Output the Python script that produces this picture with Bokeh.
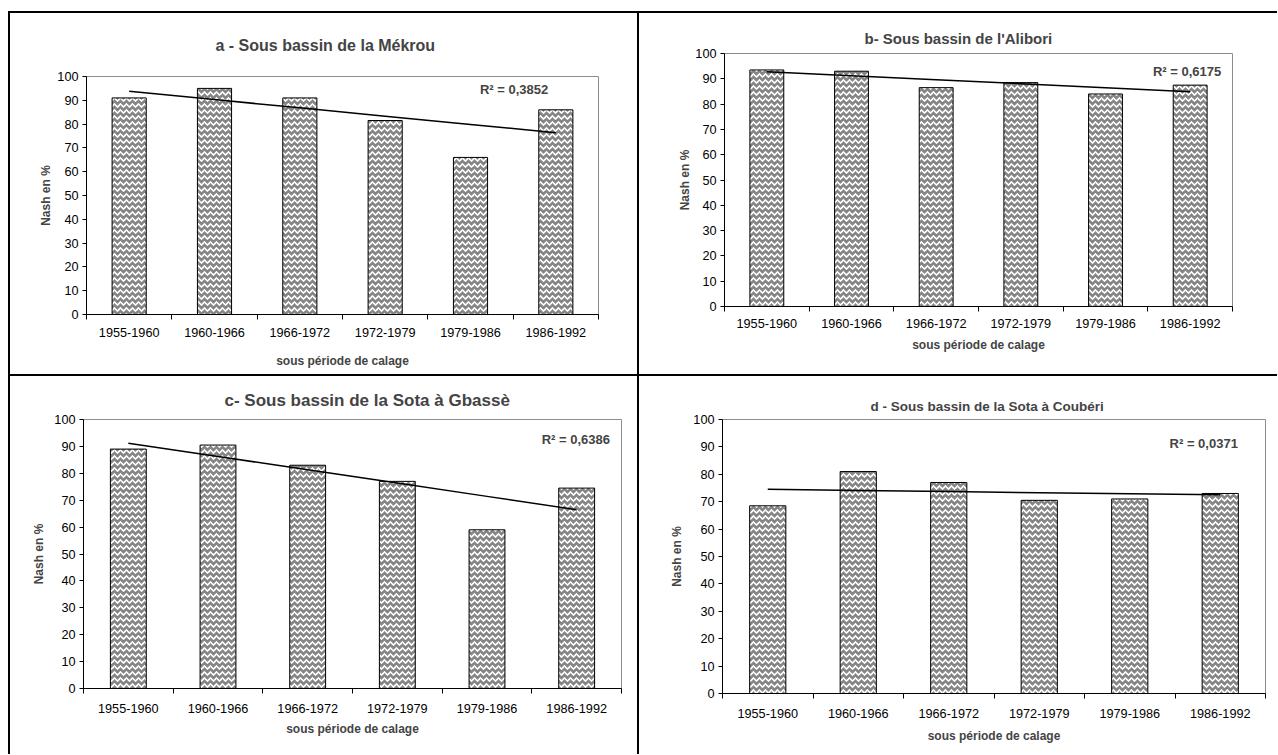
from bokeh.plotting import figure
from bokeh.layouts import column, row
from bokeh.models import FixedTicker, Label, Range1d
from bokeh.embed import file_html
from bokeh.resources import INLINE
import numpy as np

periods = ["1955-1960", "1960-1966", "1966-1972", "1972-1979", "1979-1986", "1986-1992"]
mekrou = [91, 95, 91, 81.5, 66, 86]
alibori = [93.5, 93, 86.5, 88.5, 84, 87.5]
sota_gbasse = [89, 90.5, 83, 77, 59, 74.5]
sota_couberi = [68.5, 81, 77, 70.5, 71, 73]
titles = ["a - Sous bassin de la Mékrou", "b- Sous bassin de l'Alibori",
          "c- Sous bassin de la Sota à Gbassè", "d - Sous bassin de la Sota à Coubéri"]
r2_texts = ["R² = 0,3852", "R² = 0,6175", "R² = 0,6386", "R² = 0,0371"]
y_title = "Nash en %"
x_title = "sous période de calage"

FONT = "Liberation Sans"
TICK = "12.7px"


def panel(vals, title, r2, w, h, bl, br, bt, bb, tsize, tstand, toff, r2x, r2y,
          lstand, xstand, ystand, shadow):
    xs = np.arange(1, len(vals) + 1)
    p = figure(width=w, height=h, x_range=Range1d(0.5, 6.5), y_range=Range1d(0, 100),
               output_backend="svg", toolbar_location=None,
               min_border_left=bl, min_border_right=br, min_border_top=bt, min_border_bottom=bb)
    p.border_fill_alpha = 0
    if shadow:
        p.styles = {"box-shadow": shadow}
    p.background_fill_color = "white"
    p.outline_line_color = "#8c8c8c"
    p.outline_line_width = 1
    p.grid.visible = False

    p.vbar(x=xs, top=vals, width=0.4, fill_color="#858585", line_color="black", line_width=1,
           hatch_pattern="horizontal_wave", hatch_color="white", hatch_weight=1.6, hatch_scale=6)

    coef = np.polyfit(xs, vals, 1)
    p.line(xs, np.polyval(coef, xs), line_color="black", line_width=1.5)

    p.add_layout(Label(x=r2x, y=r2y, text=r2, text_font=FONT, text_font_size="13px",
                       text_font_style="bold", text_baseline="middle", text_align="left"))

    p.title.text = title
    p.title.align = "left"
    p.title.text_font = FONT
    p.title.text_font_size = tsize
    p.title.text_font_style = "bold"
    p.title.standoff = tstand
    p.title.offset = toff

    xa = p.xaxis[0]
    xa.ticker = FixedTicker(ticks=list(xs), minor_ticks=[i + 0.5 for i in range(0, 7)])
    xa.major_label_overrides = {int(i + 1): s for i, s in enumerate(periods)}
    xa.major_tick_out = 0
    xa.major_tick_in = 0
    xa.minor_tick_out = 5
    xa.minor_tick_in = 0
    xa.minor_tick_line_color = "black"
    xa.axis_line_color = "black"
    xa.major_label_text_font = FONT
    xa.major_label_text_font_size = TICK
    xa.major_label_text_color = "black"
    xa.major_label_standoff = lstand
    xa.axis_label = x_title
    xa.axis_label_text_font = FONT
    xa.axis_label_text_font_size = "12px"
    xa.axis_label_text_font_style = "bold"
    xa.axis_label_standoff = xstand

    ya = p.yaxis[0]
    ya.ticker = FixedTicker(ticks=list(range(0, 101, 10)))
    ya.major_tick_out = 4
    ya.major_tick_in = 0
    ya.minor_tick_out = 0
    ya.minor_tick_in = 0
    ya.axis_line_color = "black"
    ya.major_tick_line_color = "black"
    ya.major_label_text_font = FONT
    ya.major_label_text_font_size = TICK
    ya.major_label_text_color = "black"
    ya.major_label_standoff = 4
    ya.axis_label = y_title
    ya.axis_label_text_font = FONT
    ya.axis_label_text_font_size = "12px"
    ya.axis_label_text_font_style = "bold"
    ya.axis_label_standoff = ystand
    return p


B = "black"
W = "white"
pa = panel(mekrou, titles[0], r2_texts[0], 639, 376, 86, 41, 76, 62, "16px", 46, 129, 5.11, 94.5,
           8, 14, 1,
           f"inset 8px 0 0 0 {W}, inset 0 11px 0 0 {W}, inset 10px 0 0 0 {B}, inset 0 13px 0 0 {B}, "
           f"inset -2px 0 0 0 {B}, inset 0 -2px 0 0 {B}")
pb = panel(alibori, titles[1], r2_texts[1], 638, 376, 85, 45, 53, 70, "15px", 13, 140, 5.56, 92.9,
           7, 7, 0,
           f"inset 0 11px 0 0 {W}, inset 0 13px 0 0 {B}, inset 0 -2px 0 0 {B}")
pc = panel(sota_gbasse, titles[2], r2_texts[2], 639, 378, 83, 18, 43, 66, "17px", 20, 141, 5.61, 92.6,
           10, 6, 5,
           f"inset 8px 0 0 0 {W}, inset 10px 0 0 0 {B}, inset -2px 0 0 0 {B}")
pd = panel(sota_couberi, titles[3], r2_texts[3], 638, 378, 83, 12, 43, 61, "13.5px", 12, 148, 5.44, 91.2,
           10, 8, 6,
           None)

layout = column(row(column(pa), column(pb), spacing=0), row(column(pc), column(pd), spacing=0), spacing=0)

open("out.html", "w").write(file_html(layout, INLINE))
